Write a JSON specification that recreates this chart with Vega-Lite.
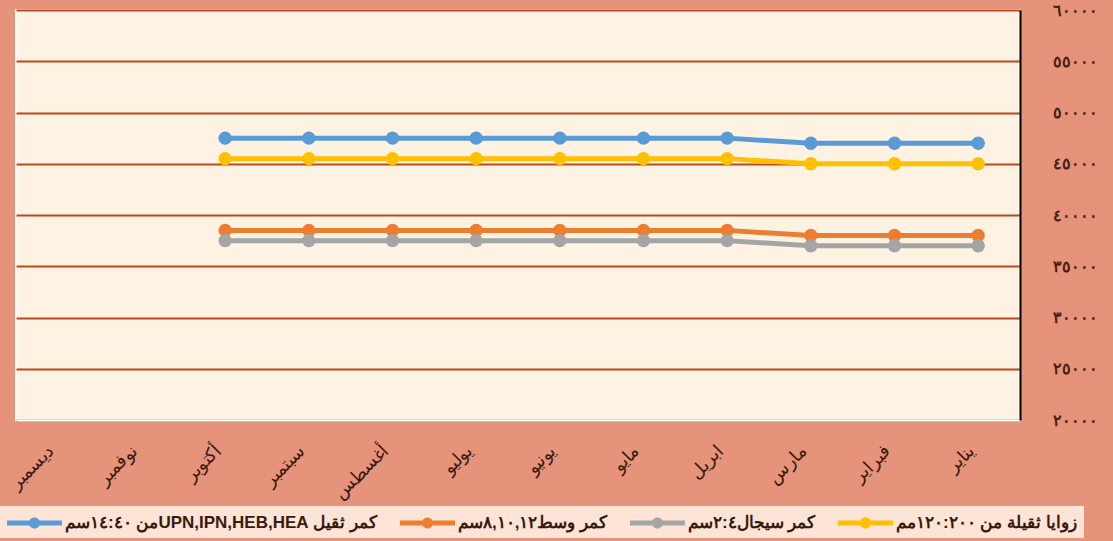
{
  "$schema": "https://vega.github.io/schema/vega-lite/v6.json",
  "width": 1004,
  "height": 410,
  "autosize": {"type": "none"},
  "padding": {"left": 16, "top": 10, "right": 93, "bottom": 121},
  "background": "#E5937A",
  "config": {
    "locale": {
      "number": {
        "decimal": ".",
        "thousands": ",",
        "grouping": [3],
        "currency": ["", ""],
        "numerals": ["٠", "١", "٢", "٣", "٤", "٥", "٦", "٧", "٨", "٩"]
      }
    },
    "view": {"fill": "#FEF2E3", "stroke": "#FFFFFF", "strokeWidth": 2}
  },
  "data": {
    "values": [
      {"month": "يناير", "series": "كمر ثقيل UPN,IPN,HEB,HEAمن ١٤:٤٠سم", "value": 47000},
      {"month": "فبراير", "series": "كمر ثقيل UPN,IPN,HEB,HEAمن ١٤:٤٠سم", "value": 47000},
      {"month": "مارس", "series": "كمر ثقيل UPN,IPN,HEB,HEAمن ١٤:٤٠سم", "value": 47000},
      {"month": "ابريل", "series": "كمر ثقيل UPN,IPN,HEB,HEAمن ١٤:٤٠سم", "value": 47500},
      {"month": "مايو", "series": "كمر ثقيل UPN,IPN,HEB,HEAمن ١٤:٤٠سم", "value": 47500},
      {"month": "يونيو", "series": "كمر ثقيل UPN,IPN,HEB,HEAمن ١٤:٤٠سم", "value": 47500},
      {"month": "يوليو", "series": "كمر ثقيل UPN,IPN,HEB,HEAمن ١٤:٤٠سم", "value": 47500},
      {"month": "أغسطس", "series": "كمر ثقيل UPN,IPN,HEB,HEAمن ١٤:٤٠سم", "value": 47500},
      {"month": "سبتمبر", "series": "كمر ثقيل UPN,IPN,HEB,HEAمن ١٤:٤٠سم", "value": 47500},
      {"month": "أكتوبر", "series": "كمر ثقيل UPN,IPN,HEB,HEAمن ١٤:٤٠سم", "value": 47500},
      {"month": "يناير", "series": "كمر وسط٨,١٠,١٢سم", "value": 38000},
      {"month": "فبراير", "series": "كمر وسط٨,١٠,١٢سم", "value": 38000},
      {"month": "مارس", "series": "كمر وسط٨,١٠,١٢سم", "value": 38000},
      {"month": "ابريل", "series": "كمر وسط٨,١٠,١٢سم", "value": 38500},
      {"month": "مايو", "series": "كمر وسط٨,١٠,١٢سم", "value": 38500},
      {"month": "يونيو", "series": "كمر وسط٨,١٠,١٢سم", "value": 38500},
      {"month": "يوليو", "series": "كمر وسط٨,١٠,١٢سم", "value": 38500},
      {"month": "أغسطس", "series": "كمر وسط٨,١٠,١٢سم", "value": 38500},
      {"month": "سبتمبر", "series": "كمر وسط٨,١٠,١٢سم", "value": 38500},
      {"month": "أكتوبر", "series": "كمر وسط٨,١٠,١٢سم", "value": 38500},
      {"month": "يناير", "series": "كمر سيجال٢:٤سم", "value": 37000},
      {"month": "فبراير", "series": "كمر سيجال٢:٤سم", "value": 37000},
      {"month": "مارس", "series": "كمر سيجال٢:٤سم", "value": 37000},
      {"month": "ابريل", "series": "كمر سيجال٢:٤سم", "value": 37500},
      {"month": "مايو", "series": "كمر سيجال٢:٤سم", "value": 37500},
      {"month": "يونيو", "series": "كمر سيجال٢:٤سم", "value": 37500},
      {"month": "يوليو", "series": "كمر سيجال٢:٤سم", "value": 37500},
      {"month": "أغسطس", "series": "كمر سيجال٢:٤سم", "value": 37500},
      {"month": "سبتمبر", "series": "كمر سيجال٢:٤سم", "value": 37500},
      {"month": "أكتوبر", "series": "كمر سيجال٢:٤سم", "value": 37500},
      {"month": "يناير", "series": "زوايا ثقيلة من ١٢٠:٢٠٠مم", "value": 45000},
      {"month": "فبراير", "series": "زوايا ثقيلة من ١٢٠:٢٠٠مم", "value": 45000},
      {"month": "مارس", "series": "زوايا ثقيلة من ١٢٠:٢٠٠مم", "value": 45000},
      {"month": "ابريل", "series": "زوايا ثقيلة من ١٢٠:٢٠٠مم", "value": 45500},
      {"month": "مايو", "series": "زوايا ثقيلة من ١٢٠:٢٠٠مم", "value": 45500},
      {"month": "يونيو", "series": "زوايا ثقيلة من ١٢٠:٢٠٠مم", "value": 45500},
      {"month": "يوليو", "series": "زوايا ثقيلة من ١٢٠:٢٠٠مم", "value": 45500},
      {"month": "أغسطس", "series": "زوايا ثقيلة من ١٢٠:٢٠٠مم", "value": 45500},
      {"month": "سبتمبر", "series": "زوايا ثقيلة من ١٢٠:٢٠٠مم", "value": 45500},
      {"month": "أكتوبر", "series": "زوايا ثقيلة من ١٢٠:٢٠٠مم", "value": 45500}
    ]
  },
  "mark": {"type": "line", "strokeWidth": 5, "point": {"size": 180, "filled": true, "opacity": 1}},
  "encoding": {
    "x": {
      "field": "month",
      "type": "ordinal",
      "scale": {
        "type": "point",
        "padding": 0.5,
        "domain": ["ديسمبر", "نوفمبر", "أكتوبر", "سبتمبر", "أغسطس", "يوليو", "يونيو", "مايو", "ابريل", "مارس", "فبراير", "يناير"]
      },
      "axis": {
        "title": null,
        "grid": false,
        "ticks": false,
        "domainColor": "#FFFFFF",
        "domainWidth": 2,
        "labelAngle": -45,
        "labelAlign": "right",
        "labelBaseline": "middle",
        "labelOffset": -7,
        "labelFontSize": 18,
        "labelColor": "#3B1A0E",
        "labelPadding": 28
      }
    },
    "y": {
      "field": "value",
      "type": "quantitative",
      "scale": {"domain": [20000, 60000]},
      "axis": {
        "orient": "right",
        "title": null,
        "values": [20000, 25000, 30000, 35000, 40000, 45000, 50000, 55000, 60000],
        "format": "d",
        "ticks": false,
        "domainColor": "#000000",
        "domainWidth": 2,
        "gridColor": "#B84A1E",
        "gridWidth": 2,
        "gridOpacity": 1,
        "labelPadding": 32,
        "labelAlign": "left",
        "labelFontSize": 16,
        "labelFontWeight": "bold",
        "labelColor": "#4A1E10"
      }
    },
    "color": {
      "field": "series",
      "type": "nominal",
      "scale": {
        "domain": ["كمر ثقيل UPN,IPN,HEB,HEAمن ١٤:٤٠سم", "كمر وسط٨,١٠,١٢سم", "كمر سيجال٢:٤سم", "زوايا ثقيلة من ١٢٠:٢٠٠مم"],
        "range": ["#5B9BD5", "#ED7D31", "#A5A5A5", "#FFC000"]
      },
      "legend": {
        "title": null,
        "orient": "none",
        "direction": "horizontal",
        "legendX": -16,
        "legendY": 496,
        "fillColor": "#FCE4D6",
        "padding": 7,
        "symbolType": "M-1,-0.25L4.5,-0.25L4.5,0.25L-1,0.25Z M2.3,0A0.55,0.55,0,1,1,1.2,0A0.55,0.55,0,1,1,2.3,0Z",
        "symbolSize": 400,
        "symbolStrokeWidth": 0,
        "labelFontSize": 17,
        "labelFontWeight": "bold",
        "labelColor": "#3B1A0E",
        "labelLimit": 500,
        "labelOffset": 38,
        "columnPadding": 22,
        "labelExpr": "'\u202B' + datum.label + '\u202C'",
        "encode": {"symbols": {"update": {"fill": {"scale": "color", "field": "value"}, "opacity": {"value": 1}}}}
      }
    }
  }
}
